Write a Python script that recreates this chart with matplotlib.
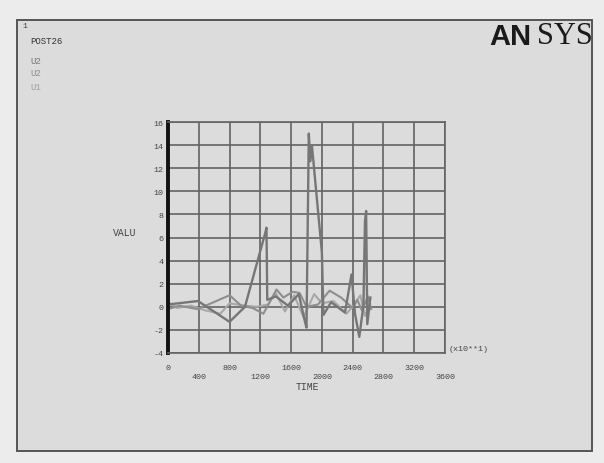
import matplotlib
matplotlib.use('Agg')
import matplotlib.pyplot as plt
from matplotlib.patches import Rectangle

# time axis in (x10**1) units
t_u2a = [0, 390, 800, 1000, 1260, 1280, 1290, 1400, 1560, 1700, 1780, 1800, 1830, 1850,
         1870, 2000, 2020, 2120, 2300, 2385, 2430, 2486, 2540, 2560, 2575, 2590, 2630]
v_u2a = [0.2, 0.5, -1.3, 0.0, 6.3, 6.85, 0.6, 0.9, 0.1, 1.1, -1.3, -1.8, 15.0, 12.6,
         14.0, 4.7, -0.7, 0.4, -0.5, 2.8, -0.6, -2.6, 0.1, 7.4, 8.3, -1.5, 0.8]

t_u2b = [0, 150, 380, 560, 800, 950, 1100, 1240, 1410, 1500, 1620, 1710, 1800,
         1950, 2100, 2250, 2400, 2460, 2520, 2600, 2640]
v_u2b = [-0.2, 0.1, -0.2, 0.3, 1.0, 0.1, -0.1, -0.6, 1.5, 0.8, 1.3, 1.2, 0.0,
         0.2, 1.4, 0.8, -0.1, 0.6, -0.3, 0.9, -0.2]

t_u1 = [0, 120, 300, 480, 680, 800, 1000, 1150, 1300, 1400, 1520, 1640, 1760,
        1900, 2000, 2150, 2320, 2420, 2500, 2560, 2620]
v_u1 = [0.4, -0.1, 0.1, -0.3, -0.6, 0.3, 0.1, 0.0, 0.2, 1.2, -0.4, 1.0, -0.9,
        1.1, 0.3, 0.5, -0.6, 0.2, 1.0, -0.8, 0.2]

xticks = [0, 400, 800, 1200, 1600, 2000, 2400, 2800, 3200, 3600]
yticks = [-4, -2, 0, 2, 4, 6, 8, 10, 12, 14, 16]

mono = 'Liberation Mono'
txt = '#444444'

fig = plt.figure(figsize=(6.04, 4.64), dpi=100)
fig.patch.set_facecolor('#ececec')

# page frame
fig.patches.append(Rectangle((17 / 604, 1 - 452 / 464), 575 / 604, 431 / 464,
                             transform=fig.transFigure, facecolor='#dcdcdc',
                             edgecolor='#555555', lw=1.4, zorder=-5))

ax = fig.add_axes([168 / 604, 1 - 354 / 464, 277 / 604, 231 / 464])
ax.set_facecolor('#dcdcdc')

ax.plot(t_u1, v_u1, color='#a8a8a8', lw=1.5)
ax.plot(t_u2b, v_u2b, color='#8e8e8e', lw=1.5)
ax.plot(t_u2a, v_u2a, color='#767676', lw=1.7)

ax.set_xlim(0, 3600)
ax.set_ylim(-4, 16)
ax.set_xticks(xticks)
ax.set_yticks(yticks)
ax.set_xticklabels([str(x) if i % 2 == 0 else '\n' + str(x) for i, x in enumerate(xticks)],
                   family=mono, fontsize=6, color=txt, linespacing=1.3)
ax.set_yticklabels([str(y) for y in yticks], family=mono, fontsize=6, color=txt)
ax.tick_params(axis='x', length=0, pad=8)
ax.tick_params(axis='y', length=0, pad=3)
ax.grid(True, color='#636363', lw=1.2)
for s in ['top', 'right', 'bottom']:
    ax.spines[s].set_color('#636363')
    ax.spines[s].set_linewidth(1.2)
ax.spines['left'].set_color('#111111')
ax.spines['left'].set_linewidth(2.8)

fig.text(307 / 604, 1 - 387 / 464, 'TIME', family=mono, fontsize=7, color=txt,
         ha='center', va='center')
fig.text(125 / 604, 1 - 233 / 464, 'VALU', family=mono, fontsize=7, color=txt,
         ha='center', va='center')
fig.text(449 / 604, 1 - 350 / 464, '(x10**1)', family=mono, fontsize=6, color=txt,
         ha='left', va='center')

fig.text(22 / 604, 1 - 27 / 464, '1', family=mono, fontsize=6, color=txt, va='center')
fig.text(30 / 604, 1 - 42 / 464, 'POST26', family=mono, fontsize=6.5, color='#333333', va='center')
fig.text(30 / 604, 1 - 61 / 464, 'U2', family=mono, fontsize=6.5, color='#767676', va='center')
fig.text(30 / 604, 1 - 74 / 464, 'U2', family=mono, fontsize=6.5, color='#8e8e8e', va='center')
fig.text(30 / 604, 1 - 88 / 464, 'U1', family=mono, fontsize=6.5, color='#a0a0a0', va='center')

fig.text(489 / 604, 1 - 37 / 464, 'AN', family='Liberation Sans', weight='bold',
         fontsize=21, color='#1a1a1a', va='center', ha='left')
fig.text(593 / 604, 1 - 37 / 464, 'SYS', family='Liberation Serif',
         fontsize=22, color='#1a1a1a', va='center', ha='right')

fig.savefig('out.png', dpi=100, facecolor=fig.get_facecolor())
